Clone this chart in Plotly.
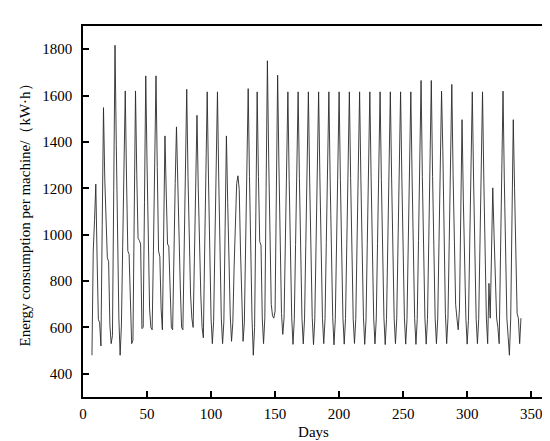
import plotly.graph_objects as go

# Daily energy consumption per machine, day 7 .. day 342 (one line per cycle, starting at its peak)
energy = [
    480, 930, 1060,
    1218, 900, 635, 620, 520, 1040,
    1548, 1240, 1010, 900, 885, 610, 530, 565, 1190,
    1817, 1390, 990, 640, 480, 610, 950, 1290,
    1620, 1240, 930, 915, 680, 530, 545, 1080,
    1620, 1260, 985, 975, 960, 595, 600, 1140,
    1685, 1310, 960, 680, 600, 590, 930, 1310,
    1685, 1290, 930, 905, 680, 590, 1010,
    1426, 1180, 960, 950, 780, 600, 590, 960, 1220,
    1465, 1200, 960, 770, 600, 590, 930, 1280,
    1627, 1250, 940, 740, 640, 600, 900, 1210,
    1515, 1200, 940, 740, 600, 555, 930, 1270,
    1616, 1240, 880, 640, 530, 625, 960, 1290,
    1616, 1240, 880, 640, 530, 625, 1030,
    1426, 1140, 880, 650, 540, 620, 860, 1050, 1220,
    1254, 1195, 930, 680, 540, 620, 960, 1300,
    1630, 1250, 880, 640, 480, 600, 1100,
    1616, 1250, 970, 955, 640, 530, 640, 1200,
    1750, 1330, 960, 700, 650, 640, 670, 1170,
    1688, 1300, 920, 660, 570, 640, 960, 1290,
    1616, 1238, 872, 641, 527, 634, 958, 1288,
    1616, 1242, 868, 638, 529, 637, 962, 1292,
    1616, 1236, 875, 643, 526, 632, 955, 1285,
    1616, 1244, 870, 639, 530, 636, 965, 1290,
    1616, 1240, 866, 642, 525, 633, 960, 1295,
    1616, 1237, 874, 640, 528, 638, 957, 1287,
    1616, 1243, 869, 637, 531, 635, 963, 1291,
    1616, 1239, 871, 644, 527, 631, 959, 1289,
    1616, 1241, 873, 640, 529, 636, 961, 1293,
    1616, 1238, 867, 642, 526, 634, 956, 1286,
    1616, 1244, 872, 639, 530, 637, 964, 1292,
    1616, 1240, 870, 641, 528, 633, 960, 1320,
    1616, 1245, 876, 638, 527, 635, 975, 1320,
    1665, 1250, 880, 640, 528, 635, 970, 1310,
    1665, 1250, 880, 640, 530, 636, 965, 1300,
    1619, 1360, 1000, 660, 530, 640, 970, 1310,
    1648, 1260, 900, 700, 640, 590, 680, 1090,
    1496, 1150, 870, 640, 528, 630, 960, 1290,
    1616, 1240, 875, 640, 530, 635, 960, 1290,
    1616, 1240, 880, 640, 530, 790, 640, 930,
    1202, 1000, 800, 640, 600, 530, 900, 1260,
    1619, 1240, 900, 640, 560, 480, 640, 1070,
    1496, 1200, 900, 660, 640, 530, 640,
]
days = list(range(7, 7 + len(energy)))

x_ticks = [0, 50, 100, 150, 200, 250, 300, 350]
y_ticks = [400, 600, 800, 1000, 1200, 1400, 1600, 1800]

FONT = dict(family="Liberation Serif, Times New Roman, serif", size=15, color="black")

fig = go.Figure()
fig.add_scatter(x=days, y=energy, mode="lines",
                line=dict(color="#2a2a2a", width=0.9), showlegend=False)

axis_style = dict(showline=True, linecolor="black", linewidth=1.5, mirror=True,
                  ticks="inside", ticklen=6, tickwidth=1.5, tickcolor="black",
                  showgrid=False, zeroline=False, tickfont=FONT, automargin=False)

fig.update_xaxes(range=[0, 360], tickvals=x_ticks, ticklabelstandoff=2,
                 title=dict(text="Days", font=FONT, standoff=6), **axis_style)
fig.update_yaxes(range=[300, 1900], tickvals=y_ticks, ticklabelstandoff=6,
                 title=dict(text="Energy consumption per machine/（kW·h）", font=FONT, standoff=8),
                 **axis_style)

fig.layout.update(width=550, height=441, template="plotly_white",
                  plot_bgcolor="white", paper_bgcolor="white", font=FONT,
                  margin=dict(l=75, r=14, t=18, b=52))

fig.write_html("out.html")
